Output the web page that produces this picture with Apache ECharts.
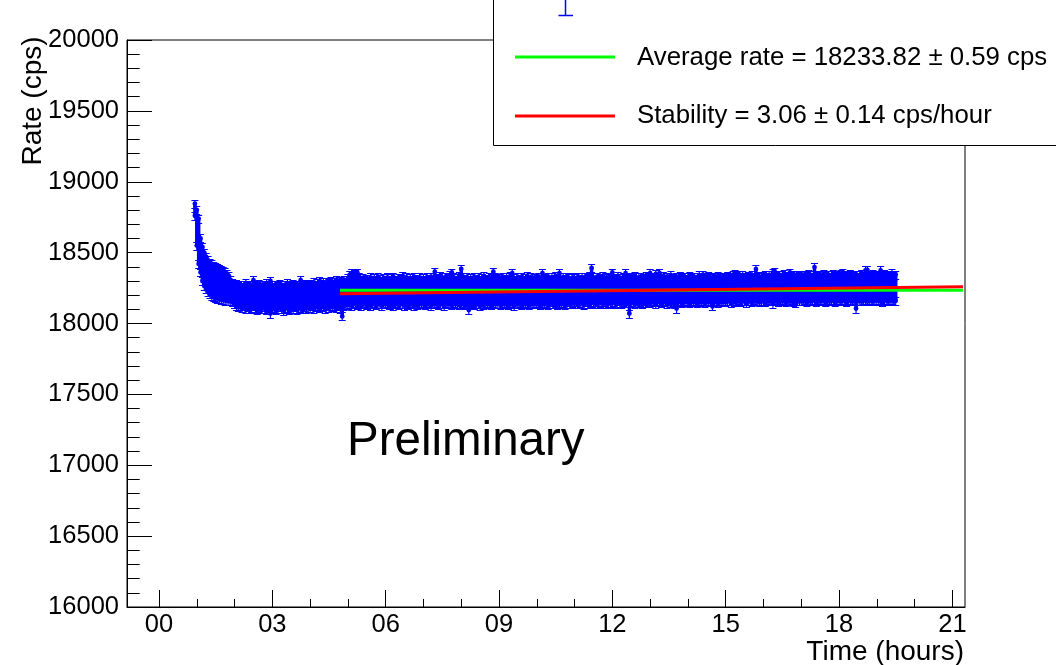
<!DOCTYPE html>
<html><head><meta charset="utf-8">
<script src="https://cdn.jsdelivr.net/npm/echarts@6/dist/echarts.min.js"></script>
<style>html,body{margin:0;padding:0;background:#fff}#c{width:1056px;height:665px}</style>
</head><body><div id="c"></div>
<script>
// ---- data (time in hours, rate in cps) ----
const firstSampleHour = 0.95;
const sampleStepHour = 0.05;
// highest point in each 0.05 h time slice
const rateMax = [
18845,
18800,18740,18600,18540,18500,18470,18445,18430,18418,18408,18400,18392,18385,18378,18370,18362,18352,18335,18305,18285,
18270,18280,18265,18275,18260,18270,18285,18265,18275,18260,18305,18270,18265,18280,18260,18275,18270,18285,18265,18300,
18270,18260,18275,18265,18280,18270,18260,18275,18285,18265,18270,18280,18265,18275,18260,18305,18270,18280,18265,18275,
18280,18270,18290,18275,18285,18300,18280,18290,18275,18295,18285,18300,18280,18295,18310,18285,18300,18290,18305,18295,
18320,18345,18355,18340,18350,18360,18330,18310,18320,18305,18315,18300,18325,18310,18320,18305,18330,18315,18300,18320,
18310,18325,18305,18320,18330,18310,18300,18320,18315,18335,18310,18325,18305,18320,18310,18330,18315,18305,18325,18310,
18320,18305,18325,18315,18330,18310,18365,18320,18315,18335,18325,18310,18330,18320,18340,18360,18325,18310,18320,18335,
18385,18330,18315,18325,18310,18320,18305,18330,18315,18325,18310,18320,18335,18315,18305,18325,18320,18365,18330,18315,
18320,18310,18330,18315,18325,18310,18335,18355,18320,18310,18325,18315,18330,18310,18320,18335,18315,18325,18310,18320,
18315,18330,18310,18356,18320,18315,18330,18310,18325,18315,18335,18320,18355,18310,18325,18315,18330,18320,18310,18325,
18320,18310,18330,18315,18325,18310,18330,18320,18335,18392,18325,18310,18330,18315,18320,18335,18310,18325,18320,18330,
18360,18320,18315,18335,18320,18310,18330,18355,18320,18315,18330,18320,18335,18310,18325,18330,18315,18320,18335,18325,
18355,18330,18320,18350,18325,18355,18320,18335,18315,18330,18325,18340,18320,18315,18330,18325,18335,18320,18330,18315,
18325,18335,18320,18330,18315,18325,18340,18320,18345,18330,18320,18335,18325,18320,18330,18315,18335,18325,18320,18330,
18325,18335,18320,18330,18345,18350,18335,18345,18325,18340,18330,18320,18335,18325,18340,18330,18384,18335,18325,18330,
18335,18345,18330,18340,18325,18360,18365,18335,18345,18330,18340,18350,18335,18325,18360,18335,18345,18330,18340,18335,
18340,18330,18345,18335,18350,18340,18330,18398,18345,18335,18340,18330,18350,18335,18345,18330,18340,18350,18335,18345,
18335,18350,18360,18340,18345,18335,18350,18340,18335,18345,18330,18340,18350,18335,18375,18378,18345,18335,18350,18340,
18345,18335,18375,18340,18350,18335,18345,18340,18355,18335,18345
];
// lowest point in each 0.05 h time slice
const rateMin = [
18760,
18550,18420,18360,18300,18265,18240,18220,18205,18195,18188,18180,18175,18170,18168,18165,18162,18160,18158,18156,18150,
18140,18120,18115,18125,18110,18120,18105,18115,18100,18110,18120,18105,18095,18110,18100,18115,18105,18095,18110,18070,
18100,18110,18095,18105,18115,18100,18090,18105,18110,18095,18105,18100,18115,18095,18105,18110,18100,18115,18105,18110,
18110,18120,18105,18115,18125,18110,18120,18115,18105,18120,18110,18125,18115,18120,18110,18125,18105,18050,18120,18130,
18130,18140,18125,18135,18145,18130,18140,18125,18135,18145,18130,18140,18125,18135,18145,18130,18140,18135,18125,18140,
18135,18145,18130,18140,18125,18135,18145,18130,18140,18135,18125,18140,18130,18145,18135,18125,18140,18130,18145,18135,
18140,18130,18145,18135,18125,18140,18135,18145,18130,18140,18135,18125,18145,18135,18140,18130,18145,18135,18140,18130,
18135,18145,18130,18140,18095,18135,18145,18130,18140,18135,18125,18140,18130,18145,18135,18140,18130,18145,18135,18140,
18140,18130,18145,18135,18140,18130,18145,18135,18125,18140,18135,18145,18130,18140,18135,18145,18130,18140,18135,18145,
18135,18145,18130,18140,18135,18145,18130,18140,18150,18135,18145,18130,18140,18135,18145,18130,18140,18150,18135,18145,
18140,18150,18135,18145,18140,18130,18150,18140,18135,18145,18150,18140,18135,18150,18145,18140,18150,18135,18145,18140,
18145,18150,18140,18155,18145,18140,18150,18145,18155,18070,18145,18150,18140,18155,18145,18150,18140,18155,18145,18150,
18145,18155,18150,18140,18155,18150,18145,18155,18150,18140,18155,18145,18150,18140,18105,18150,18155,18145,18150,18155,
18150,18145,18155,18150,18160,18145,18155,18150,18160,18145,18155,18150,18160,18120,18150,18155,18145,18160,18150,18155,
18150,18160,18155,18145,18160,18150,18155,18165,18150,18160,18155,18145,18160,18155,18150,18165,18155,18160,18150,18155,
18160,18150,18165,18155,18160,18140,18155,18165,18150,18160,18155,18165,18150,18160,18155,18165,18150,18145,18160,18155,
18160,18155,18165,18150,18160,18155,18165,18160,18150,18165,18155,18160,18165,18150,18160,18155,18165,18160,18150,18165,
18160,18155,18165,18160,18150,18165,18160,18155,18165,18105,18160,18160,18155,18165,18160,18155,18165,18160,18155,18165,
18160,18165,18155,18150,18160,18165,18155,18160,18165,18155,18160
];
const rateError = 28;                     // cps, error bar half-length of a point
const averageLine = [[4.79, 18233.82], [21.28, 18233.82]];
const stabilityLine = [[4.79, 18209.3], [21.28, 18259.8]];
const xMajorTicks = [0, 3, 6, 9, 12, 15, 18, 21];
const xTickLabels = ['00', '03', '06', '09', '12', '15', '18', '21'];
const xMinorTicks = [0,1,2,3,4,5,6,7,8,9,10,11,12,13,14,15,16,17,18,19,20,21];
const yTicks = [16000, 16500, 17000, 17500, 18000, 18500, 19000, 19500, 20000];
const legendTexts = ['Average rate = 18233.82 \u00b1 0.59 cps', 'Stability = 3.06 \u00b1 0.14 cps/hour'];

// ---- build ----
const FONT = '"Liberation Sans", Arial, Helvetica, sans-serif';
const BLUE = '#0000ff';
const rows = rateMax.map((hi, i) => [firstSampleHour + i * sampleStepHour, rateMin[i], hi]);

function pointGlyph(api, x, v) {
  const yc = api.coord([0, v])[1];
  const yt = Math.round(api.coord([0, v + rateError])[1]) + 0.5;
  const yb = Math.round(api.coord([0, v - rateError])[1]) + 0.5;
  return [
    {type: 'line', shape: {x1: x, y1: yt, x2: x, y2: yb}, style: {stroke: BLUE, lineWidth: 1.2}},
    {type: 'line', shape: {x1: x - 3.5, y1: yt, x2: x + 3.5, y2: yt}, style: {stroke: BLUE, lineWidth: 1}},
    {type: 'line', shape: {x1: x - 3.5, y1: yb, x2: x + 3.5, y2: yb}, style: {stroke: BLUE, lineWidth: 1}},
    {type: 'circle', shape: {cx: x, cy: yc, r: 2.4}, style: {fill: BLUE}}
  ];
}

const chart = echarts.init(document.getElementById('c'), null, {renderer: 'canvas'});
chart.setOption({
  animation: false,
  backgroundColor: '#fff',
  grid: {left: 127, right: 91, top: 40, bottom: 58, show: true, borderColor: '#000', borderWidth: 1, backgroundColor: 'transparent'},
  xAxis: [{
    type: 'value', min: -0.847, max: 21.334,
    axisLine: {show: true, onZero: false, lineStyle: {color: '#000', width: 1}},
    axisTick: {show: true, inside: true, length: 17, customValues: xMajorTicks, lineStyle: {color: '#000'}},
    axisLabel: {show: true, customValues: xMajorTicks, margin: 5, fontSize: 25.5, fontFamily: FONT, color: '#000',
      formatter: v => xTickLabels[xMajorTicks.indexOf(Math.round(v))]},
    splitLine: {show: false}
  }, {
    type: 'value', min: -0.847, max: 21.334, position: 'bottom', offset: 0,
    axisLine: {show: false, onZero: false},
    axisTick: {show: true, inside: true, length: 8, customValues: xMinorTicks, lineStyle: {color: '#000'}},
    axisLabel: {show: false}, splitLine: {show: false}
  }],
  yAxis: {
    type: 'value', min: yTicks[0], max: yTicks[yTicks.length - 1], interval: 500,
    axisLine: {show: true, onZero: false, lineStyle: {color: '#000', width: 1}},
    axisTick: {show: true, inside: true, length: 25, lineStyle: {color: '#000'}},
    minorTick: {show: true, splitNumber: 5, length: 12.7, lineStyle: {color: '#000'}},
    axisLabel: {margin: 8, fontSize: 25.5, fontFamily: FONT, color: '#000', formatter: v => String(v)},
    splitLine: {show: false}
  },
  series: [{
    type: 'custom', xAxisIndex: 0, yAxisIndex: 0, data: rows,
    encode: {x: 0, y: [1, 2]}, z: 2, clip: true,
    renderItem: function (params, api) {
      const t = api.value(0), lo = api.value(1), hi = api.value(2);
      const xl = api.coord([t - sampleStepHour / 2, hi]);
      const xr = api.coord([t + sampleStepHour / 2, lo]);
      const x = api.coord([t, hi])[0];
      const children = [{type: 'rect', shape: {x: xl[0] - 0.8, y: xl[1], width: xr[0] - xl[0] + 1.6, height: xr[1] - xl[1]}, style: {fill: BLUE}}];
      return {type: 'group', children: children.concat(pointGlyph(api, x, hi), pointGlyph(api, x, lo))};
    }
  }, {
    type: 'line', data: averageLine, showSymbol: false, z: 3,
    lineStyle: {color: '#00ff00', width: 3}
  }, {
    type: 'line', data: stabilityLine, showSymbol: false, z: 4,
    lineStyle: {color: '#ff0000', width: 3}
  }],
  graphic: [
    {type: 'text', z: 50, x: 33.5, y: 101, rotation: Math.PI / 2,
      style: {text: 'Rate (cps)', font: '28px ' + FONT, fill: '#000', align: 'center', verticalAlign: 'middle'}},
    {type: 'text', z: 50, x: 964, y: 652,
      style: {text: 'Time (hours)', font: '28px ' + FONT, fill: '#000', align: 'right', verticalAlign: 'middle'}},
    {type: 'text', z: 50, x: 347, y: 442,
      style: {text: 'Preliminary', font: '47.5px ' + FONT, fill: '#000', align: 'left', verticalAlign: 'middle'}},
    {type: 'rect', z: 60, shape: {x: 493.5, y: -5, width: 620, height: 150.5},
      style: {fill: '#fff', stroke: '#000', lineWidth: 1}},
    {type: 'line', z: 61, shape: {x1: 565.5, y1: 0, x2: 565.5, y2: 15}, style: {stroke: BLUE, lineWidth: 1.5}},
    {type: 'line', z: 61, shape: {x1: 558.5, y1: 15.5, x2: 573, y2: 15.5}, style: {stroke: BLUE, lineWidth: 1.5}},
    {type: 'line', z: 61, shape: {x1: 515, y1: 57, x2: 615, y2: 57}, style: {stroke: '#00ff00', lineWidth: 3}},
    {type: 'line', z: 61, shape: {x1: 515, y1: 116, x2: 615, y2: 116}, style: {stroke: '#ff0000', lineWidth: 3}},
    {type: 'text', z: 61, x: 637, y: 57.5,
      style: {text: legendTexts[0], font: '25.8px ' + FONT, fill: '#000', align: 'left', verticalAlign: 'middle'}},
    {type: 'text', z: 61, x: 637, y: 115.5,
      style: {text: legendTexts[1], font: '25.8px ' + FONT, fill: '#000', align: 'left', verticalAlign: 'middle'}}
  ]
});
</script></body></html>
